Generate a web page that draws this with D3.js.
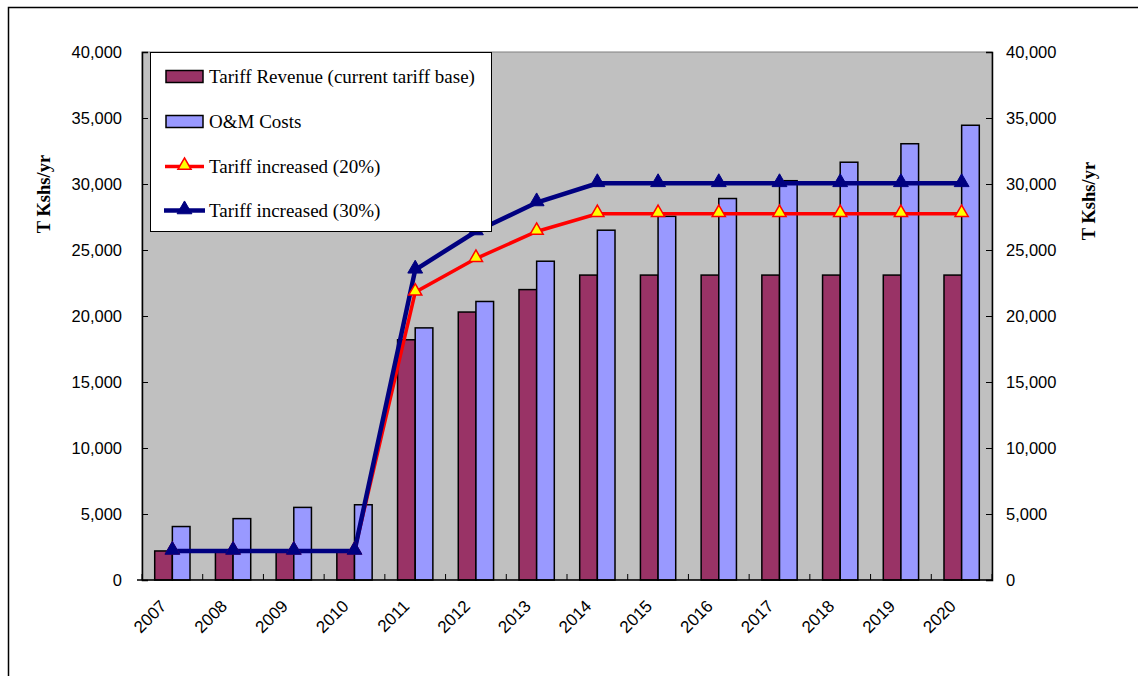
<!DOCTYPE html>
<html>
<head>
<meta charset="utf-8">
<script src="https://cdn.jsdelivr.net/npm/d3@7"></script>
<style>
  html, body { margin: 0; padding: 0; background: #fff; }
  svg { display: block; }
</style>
</head>
<body>
<svg id="chart" width="1138" height="676"></svg>
<script>
const years = ["2007","2008","2009","2010","2011","2012","2013","2014","2015","2016","2017","2018","2019","2020"];
const tariffRevenue = [2200, 2200, 2200, 2200, 18200, 20300, 22000, 23100, 23100, 23100, 23100, 23100, 23100, 23100];
const omCosts = [4050, 4650, 5500, 5700, 19100, 21100, 24150, 26500, 27550, 28900, 30250, 31650, 33050, 34450];
const tariff20 = [2200, 2200, 2200, 2200, 21800, 24350, 26400, 27750, 27750, 27750, 27750, 27750, 27750, 27750];
const tariff30 = [2200, 2200, 2200, 2200, 23500, 26400, 28600, 30050, 30050, 30050, 30050, 30050, 30050, 30050];
const yTicks = [0, 5000, 10000, 15000, 20000, 25000, 30000, 35000, 40000];
const legendLabels = ["Tariff Revenue (current tariff base)", "O&M Costs", "Tariff increased (20%)", "Tariff increased (30%)"];
const axisTitle = "T Kshs/yr";

const svg = d3.select("#chart");
const L = 142, R = 992, T = 52, B = 580;

// outer frame
svg.append("rect").attr("x", 8.5).attr("y", 7.5).attr("width", 1200).attr("height", 800)
  .attr("fill", "#fff").attr("stroke", "#000").attr("stroke-width", 1.5);

const x = d3.scaleBand().domain(years).range([L, R]).paddingInner(0).paddingOuter(0);
const y = d3.scaleLinear().domain([0, 40000]).range([B, T]);
const sub = d3.scaleBand().domain(["rev", "om"]).range([0, x.bandwidth()]).paddingOuter(0.72).paddingInner(0);

// plot area
svg.append("rect").attr("x", L).attr("y", T).attr("width", R - L).attr("height", B - T)
  .attr("fill", "#c0c0c0").attr("stroke", "#808080").attr("stroke-width", 1);

// bars
const g = svg.append("g");
g.selectAll("rect.rev").data(years).enter().append("rect")
  .attr("x", (d) => x(d) + sub("rev"))
  .attr("y", (d, i) => y(tariffRevenue[i]))
  .attr("width", sub.bandwidth())
  .attr("height", (d, i) => B - y(tariffRevenue[i]))
  .attr("fill", "#993366").attr("stroke", "#000").attr("stroke-width", 1.5);
g.selectAll("rect.om").data(years).enter().append("rect")
  .attr("x", (d) => x(d) + sub("om"))
  .attr("y", (d, i) => y(omCosts[i]))
  .attr("width", sub.bandwidth())
  .attr("height", (d, i) => B - y(omCosts[i]))
  .attr("fill", "#9999ff").attr("stroke", "#000").attr("stroke-width", 1.5);

// axes
const fmt = d3.format(",");
const leftAxis = d3.axisLeft(y).tickValues(yTicks).tickSize(-6).tickPadding(21).tickFormat(fmt);
const rightAxis = d3.axisRight(y).tickValues(yTicks).tickSize(-6).tickPadding(20).tickFormat(fmt);
const la = svg.append("g").attr("transform", `translate(${L},0)`).call(leftAxis);
const ra = svg.append("g").attr("transform", `translate(${R},0)`).call(rightAxis);
[la, ra].forEach(a => {
  a.select(".domain").attr("stroke", "#000").attr("stroke-width", 1.5);
  a.selectAll(".tick line").attr("stroke", "#000").attr("stroke-width", 1);
  a.selectAll(".tick text").attr("font-family", "Liberation Sans, Arial, sans-serif").attr("font-size", 16.5).attr("fill", "#000");
});
ra.selectAll(".tick text").attr("x", 14);
la.selectAll(".tick text").attr("x", -20);

// x axis
const bx = svg.append("g").attr("transform", `translate(0,${B})`);
bx.append("line").attr("x1", L - 5).attr("x2", R).attr("y1", 0).attr("y2", 0).attr("stroke", "#000").attr("stroke-width", 1.5);
const bounds = years.map(d => x(d)).concat([R]);
bx.selectAll("line.t").data(bounds).enter().append("line")
  .attr("x1", d => d).attr("x2", d => d).attr("y1", 0).attr("y2", -6)
  .attr("stroke", "#000").attr("stroke-width", 1);
bx.selectAll("text").data(years).enter().append("text")
  .attr("transform", d => `translate(${x(d) + x.bandwidth() / 2 - 9},${23}) rotate(-45)`)
  .attr("text-anchor", "end").attr("dy", "0.35em")
  .attr("font-family", "Liberation Sans, Arial, sans-serif").attr("font-size", 17).attr("fill", "#000")
  .text(d => d);

// lines
const cx = d => x(d) + x.bandwidth() / 2;
const line = d3.line().x(d => cx(d[0])).y(d => y(d[1]));
const tri = d3.symbol().type(d3.symbolTriangle);
svg.append("path").datum(years.map((d, i) => [d, tariff20[i]])).attr("d", line)
  .attr("fill", "none").attr("stroke", "#ff0000").attr("stroke-width", 3.5);
svg.append("path").datum(years.map((d, i) => [d, tariff30[i]])).attr("d", line)
  .attr("fill", "none").attr("stroke", "#000080").attr("stroke-width", 4.5);
svg.selectAll("path.m20").data(years).enter().append("path")
  .attr("d", tri.size(75)())
  .attr("transform", (d, i) => `translate(${cx(d)},${y(tariff20[i]) - 1})`)
  .attr("fill", "#ffff00").attr("stroke", "#ff0000").attr("stroke-width", 1.5);
svg.selectAll("path.m30").data(years).enter().append("path")
  .attr("d", tri.size(95)())
  .attr("transform", (d, i) => `translate(${cx(d)},${y(tariff30[i]) - 1})`)
  .attr("fill", "#000080").attr("stroke", "#000080").attr("stroke-width", 1);

// axis titles
svg.append("text").attr("transform", "translate(50,194) rotate(-90)")
  .attr("text-anchor", "middle").attr("font-family", "Liberation Serif, Times New Roman, serif")
  .attr("font-weight", "bold").attr("font-size", 18.5).text(axisTitle);
svg.append("text").attr("transform", "translate(1095,201) rotate(-90)")
  .attr("text-anchor", "middle").attr("font-family", "Liberation Serif, Times New Roman, serif")
  .attr("font-weight", "bold").attr("font-size", 18.5).text(axisTitle);

// legend
const lg = svg.append("g");
lg.append("rect").attr("x", 150.5).attr("y", 52.5).attr("width", 341).attr("height", 179)
  .attr("fill", "#fff").attr("stroke", "#000").attr("stroke-width", 1);
const rowsY = [76.5, 121.5, 166.5, 210.5];
lg.append("rect").attr("x", 166).attr("y", rowsY[0] - 6).attr("width", 37).attr("height", 12)
  .attr("fill", "#993366").attr("stroke", "#000").attr("stroke-width", 1.5);
lg.append("rect").attr("x", 166).attr("y", rowsY[1] - 6).attr("width", 37).attr("height", 12)
  .attr("fill", "#9999ff").attr("stroke", "#000").attr("stroke-width", 1.5);
lg.append("line").attr("x1", 165).attr("x2", 204).attr("y1", rowsY[2]).attr("y2", rowsY[2])
  .attr("stroke", "#ff0000").attr("stroke-width", 3.5);
lg.append("path").attr("d", tri.size(75)()).attr("transform", `translate(184.5,${rowsY[2] - 1})`)
  .attr("fill", "#ffff00").attr("stroke", "#ff0000").attr("stroke-width", 1.5);
lg.append("line").attr("x1", 164).attr("x2", 205).attr("y1", rowsY[3]).attr("y2", rowsY[3])
  .attr("stroke", "#000080").attr("stroke-width", 4.5);
lg.append("path").attr("d", tri.size(95)()).attr("transform", `translate(184.5,${rowsY[3] - 1})`)
  .attr("fill", "#000080").attr("stroke", "#000080").attr("stroke-width", 1);
lg.selectAll("text").data(legendLabels).enter().append("text")
  .attr("x", 209).attr("y", (d, i) => rowsY[i]).attr("dy", "0.35em")
  .attr("font-family", "Liberation Serif, Times New Roman, serif").attr("font-size", 19).attr("fill", "#000")
  .text(d => d);
</script>
</body>
</html>
